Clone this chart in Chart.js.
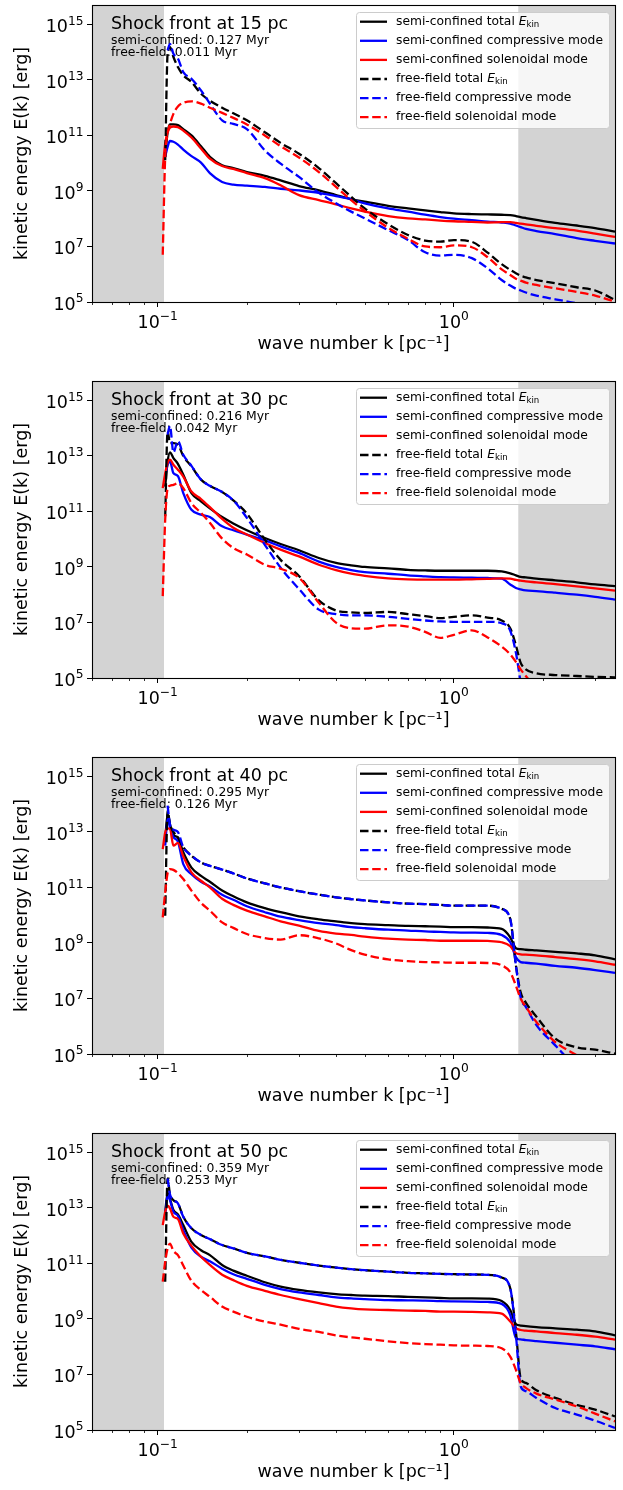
<!DOCTYPE html>
<html>
<head>
<meta charset="utf-8">
<script src="https://cdn.jsdelivr.net/npm/chart.js@4.4.1/dist/chart.umd.min.js"></script>
<style>
  html, body { margin: 0; padding: 0; background: #fff; }
  body { width: 623px; height: 1490px; position: relative; overflow: hidden; }
  canvas { position: absolute; left: 0; }
</style>
</head>
<body>
<canvas id="c15" width="623" height="362" style="top:0px"></canvas>
<canvas id="c30" width="623" height="362" style="top:376px"></canvas>
<canvas id="c40" width="623" height="362" style="top:752px"></canvas>
<canvas id="c50" width="623" height="362" style="top:1128px"></canvas>
<script>
const k = [0.104, 0.106, 0.108, 0.11, 0.113, 0.117, 0.122, 0.13, 0.14, 0.15, 0.165, 0.18, 0.2, 0.23, 0.26, 0.3, 0.35, 0.4, 0.45, 0.5, 0.6, 0.7, 0.8, 0.9, 1.0, 1.15, 1.3, 1.45, 1.55, 1.62, 1.68, 1.75, 1.9, 2.2, 2.6, 3.0, 3.5];

// shock front at 15 pc
const scTotal15 = [null, 1.7e10, 1.3e11, 2.5e11, 2.5e11, 2.35e11, 1.7e11, 1.0e11, 4.1e10, 1.7e10, 8.4e9, 6.7e9, 4.8e9, 3.5e9, 2.4e9, 1.5e9, 1.05e9, 7.1e8, 5.1e8, 4.1e8, 2.9e8, 2.35e8, 2.0e8, 1.74e8, 1.56e8, 1.47e8, 1.43e8, 1.39e8, 1.35e8, 1.25e8, 1.15e8, 1.06e8, 9.1e7, 7.1e7, 5.7e7, 4.6e7, 3.4e7];
const scComp15 = [null, 1.7e10, 3.9e10, 6.3e10, 5.9e10, 4.7e10, 3.1e10, 1.8e10, 1.05e10, 4.4e9, 2.1e9, 1.7e9, 1.56e9, 1.4e9, 1.2e9, 1.05e9, 8.6e8, 6.5e8, 5.0e8, 3.6e8, 2.35e8, 1.8e8, 1.4e8, 1.15e8, 1.0e8, 8.9e7, 7.9e7, 7.3e7, 6.7e7, 5.7e7, 5.0e7, 4.3e7, 3.6e7, 2.8e7, 2.0e7, 1.6e7, 1.28e7];
const scSol15 = [6.3e9, 5.1e10, 1.32e11, 1.9e11, 2.1e11, 2.0e11, 1.5e11, 8.4e10, 3.4e10, 1.47e10, 7.9e9, 6.2e9, 4.4e9, 2.9e9, 1.6e9, 7.1e8, 4.7e8, 3.3e8, 2.35e8, 1.8e8, 1.25e8, 1.03e8, 9.4e7, 8.6e7, 8.1e7, 7.7e7, 7.3e7, 7.5e7, 7.5e7, 7.1e7, 6.7e7, 6.3e7, 5.5e7, 4.6e7, 3.7e7, 2.9e7, 2.2e7];
const ffTotal15 = [null, 1.28e10, 8.7e13, 1.5e14, 6.7e13, 2.9e13, 1.47e13, 8.4e12, 3.2e12, 1.8e12, 1.0e12, 6.3e11, 3.5e11, 1.3e11, 5.4e10, 2.2e10, 6.7e9, 1.9e9, 6.2e8, 2.35e8, 6.3e7, 2.6e7, 1.64e7, 1.5e7, 1.7e7, 1.47e7, 6.0e6, 2.3e6, 1.43e6, 1.09e6, 8.9e5, 7.7e5, 6.2e5, 4.7e5, 3.4e5, 2.6e5, 1.18e5];
const ffComp15 = [null, null, 1.15e14, 2.0e14, 8.7e13, 5.9e13, 1.9e13, 1.1e13, 4.2e12, 1.4e12, 3.5e11, 2.6e11, 1.7e11, 2.9e10, 9.6e9, 3.2e9, 8.6e8, 3.6e8, 1.8e8, 1.03e8, 3.9e7, 1.7e7, 6.2e6, 4.7e6, 5.0e6, 3.8e6, 1.64e6, 6.2e5, 3.9e5, 3.0e5, 2.6e5, 2.2e5, 1.7e5, 1.25e5, 9e4, 6.8e4, 5.1e4];
const ffSol15 = [5.0e6, 1.7e10, 1.15e11, 2.6e11, 6.0e11, 1.1e12, 1.5e12, 1.7e12, 1.4e12, 1.0e12, 6.5e11, 4.3e11, 2.5e11, 1.0e11, 4.1e10, 1.6e10, 4.8e9, 1.4e9, 4.7e8, 1.9e8, 4.7e7, 1.9e7, 1.0e7, 9.4e6, 1.1e7, 9.4e6, 4.1e6, 1.5e6, 9.4e5, 6.9e5, 5.9e5, 5.0e5, 4.1e5, 3.1e5, 2.3e5, 1.7e5, 1.03e5];

// shock front at 30 pc
const scTotal30 = [null, 7.9e11, 6.3e12, 1.35e13, 8.4e12, 5.2e12, 2.1e12, 4.6e11, 2.3e11, 1.3e11, 6.3e10, 3.7e10, 2.1e10, 1.1e10, 6.7e9, 4.0e9, 2.1e9, 1.4e9, 1.15e9, 1.0e9, 8.9e8, 7.9e8, 7.5e8, 7.3e8, 7.3e8, 7.3e8, 7.3e8, 6.9e8, 5.9e8, 5.0e8, 4.4e8, 4.2e8, 3.8e8, 3.3e8, 2.8e8, 2.35e8, 2.05e8];
const scComp30 = [null, 1.8e12, 4.8e12, 6.3e12, 2.4e12, 1.9e12, 4.6e11, 1.15e11, 7.7e10, 6.3e10, 2.9e10, 2.1e10, 1.47e10, 9.1e9, 5.5e9, 3.2e9, 1.56e9, 1.0e9, 7.7e8, 6.5e8, 5.7e8, 5.0e8, 4.6e8, 4.3e8, 4.2e8, 4.1e8, 4.0e8, 3.8e8, 2.35e8, 1.74e8, 1.56e8, 1.43e8, 1.35e8, 1.18e8, 1.0e8, 8.4e7, 6.7e7];
const scSol30 = [6.9e11, 2.4e12, 5.5e12, 7.3e12, 4.8e12, 3.2e12, 1.8e12, 5.2e11, 2.8e11, 1.43e11, 5.4e10, 2.6e10, 1.47e10, 7.3e9, 4.2e9, 2.4e9, 1.2e9, 7.7e8, 5.7e8, 4.8e8, 3.9e8, 3.6e8, 3.5e8, 3.5e8, 3.5e8, 3.6e8, 3.7e8, 3.9e8, 3.8e8, 3.4e8, 3.2e8, 3.0e8, 2.8e8, 2.4e8, 2.0e8, 1.7e8, 1.4e8];
const ffTotal30 = [null, 6.7e10, 7.7e13, 2.9e13, 2.9e13, 2.56e13, 1.0e13, 4.2e12, 1.4e12, 8.4e11, 5.0e11, 2.5e11, 8.4e10, 9.6e9, 1.8e9, 4.7e8, 6.3e7, 2.7e7, 2.3e7, 2.2e7, 2.4e7, 2.0e7, 1.7e7, 1.43e7, 1.6e7, 1.8e7, 1.5e7, 1.18e7, 6.2e6, 1.5e6, 3.6e5, 2.05e5, 1.47e5, 1.28e5, 1.18e5, 1.1e5, 1.06e5];
const ffComp30 = [null, null, 5.9e13, 1.2e14, 1.35e13, 3.4e13, 1.1e13, 4.4e12, 1.4e12, 8.4e11, 5.0e11, 2.5e11, 5.9e10, 6.3e9, 9.4e8, 1.6e8, 2.9e7, 2.0e7, 1.8e7, 1.8e7, 1.6e7, 1.35e7, 1.18e7, 1.09e7, 1.06e7, 1.06e7, 1.06e7, 9.4e6, 5.0e6, 8.1e5, 6.8e4, null, null, null, null, null, null];
const ffSol30 = [8.9e7, 5.1e10, 6.7e11, 8.4e11, 9.1e11, 1.03e12, 6.9e11, 2.0e11, 8.9e10, 3.9e10, 1.05e10, 4.8e9, 2.8e9, 1.2e9, 8.6e8, 4.1e8, 5.1e7, 9.9e6, 6.2e6, 6.0e6, 7.9e6, 7.1e6, 4.6e6, 2.8e6, 3.6e6, 5.2e6, 2.9e6, 1.35e6, 7.1e5, 3.8e5, 2.05e5, 1.18e5, 3.9e4, null, null, null, null];

// shock front at 40 pc
const scTotal40 = [null, 5.5e12, 4.4e13, 1.9e13, 7.7e12, 6.3e12, 1.84e12, 5.2e11, 2.6e11, 1.6e11, 7.7e10, 4.8e10, 2.9e10, 1.8e10, 1.28e10, 9.1e9, 7.1e9, 6.0e9, 5.2e9, 4.8e9, 4.4e9, 4.1e9, 4.0e9, 3.9e9, 3.7e9, 3.7e9, 3.6e9, 3.2e9, 1.6e9, 6.5e8, 6.0e8, 5.7e8, 5.4e8, 4.8e8, 4.2e8, 3.6e8, 2.56e8];
const scComp40 = [null, 3.2e12, 2.9e13, 1.47e13, 6.5e12, 4.5e12, 6.9e11, 3.0e11, 1.6e11, 1.09e11, 5.4e10, 3.6e10, 2.1e10, 1.28e10, 8.8e9, 6.7e9, 5.2e9, 4.4e9, 3.7e9, 3.4e9, 3.0e9, 2.8e9, 2.6e9, 2.5e9, 2.4e9, 2.35e9, 2.3e9, 1.94e9, 1.06e9, 3.1e8, 2.05e8, 1.94e8, 1.8e8, 1.5e8, 1.28e8, 1.06e8, 8.4e7];
const scSol40 = [2.4e12, 9.6e12, 1.35e13, 1.28e13, 3.2e12, 4.0e12, 1.32e12, 3.5e11, 1.74e11, 1.0e11, 3.9e10, 2.35e10, 1.47e10, 9.1e9, 6.0e9, 4.2e9, 2.7e9, 2.17e9, 1.94e9, 1.7e9, 1.43e9, 1.32e9, 1.28e9, 1.2e9, 1.2e9, 1.2e9, 1.18e9, 1.06e9, 7.7e8, 4.3e8, 3.9e8, 3.8e8, 3.6e8, 3.1e8, 2.6e8, 2.17e8, 1.64e8];
const ffTotal40 = [null, 9.6e9, 5.9e13, 1.9e13, 1.0e13, 6.3e12, 2.8e12, 1.4e12, 7.9e11, 6.0e11, 4.4e11, 3.2e11, 2.1e11, 1.4e11, 1.0e11, 7.3e10, 5.5e10, 4.4e10, 3.8e10, 3.4e10, 2.9e10, 2.6e10, 2.5e10, 2.35e10, 2.2e10, 2.2e10, 2.2e10, 1.7e10, 7.3e9, 1.56e8, 1.7e7, 7.1e6, 2.2e6, 3.6e5, 1.74e5, 1.43e5, 1.03e5];
const ffComp40 = [null, null, 8.8e13, 1.9e13, 1.2e13, 1.0e13, 2.8e12, 1.4e12, 7.9e11, 6.0e11, 4.4e11, 3.2e11, 2.1e11, 1.4e11, 1.0e11, 7.3e10, 5.5e10, 4.4e10, 3.8e10, 3.4e10, 2.9e10, 2.6e10, 2.5e10, 2.35e10, 2.2e10, 2.2e10, 2.2e10, 1.7e10, 7.3e9, 1.56e8, 1.1e7, 5.0e6, 1.1e6, 2.05e5, 3.0e4, null, null];
const ffSol40 = [8.4e9, 6.7e10, 3.3e11, 4.6e11, 4.3e11, 3.3e11, 2.0e11, 7.7e10, 2.8e10, 1.47e10, 5.5e9, 3.5e9, 2.1e9, 1.5e9, 1.32e9, 1.9e9, 1.47e9, 9.6e8, 5.5e8, 3.8e8, 2.56e8, 2.2e8, 2.05e8, 2.0e8, 1.94e8, 1.94e8, 1.9e8, 1.56e8, 8.8e7, 2.9e7, 9.9e6, 5.0e6, 1.43e6, 2.7e5, 9.0e4, null, null];

// shock front at 50 pc
const scTotal50 = [null, 7.3e12, 3.4e13, 2.1e13, 8.4e12, 5.8e12, 2.4e12, 6.0e11, 3.0e11, 2.0e11, 8.8e10, 5.5e10, 3.6e10, 2.1e10, 1.47e10, 1.12e10, 9.1e9, 7.9e9, 7.3e9, 6.9e9, 6.7e9, 6.2e9, 6.0e9, 5.7e9, 5.5e9, 5.5e9, 5.4e9, 4.4e9, 2.1e9, 6.5e8, 5.8e8, 5.5e8, 5.1e8, 4.6e8, 4.1e8, 3.6e8, 2.56e8];
const scComp50 = [null, 5.5e12, 2.9e13, 1.9e13, 7.3e12, 5.2e12, 1.6e12, 3.7e11, 1.74e11, 1.2e11, 6.5e10, 4.1e10, 2.8e10, 1.7e10, 1.2e10, 9.1e9, 7.3e9, 6.0e9, 5.5e9, 5.2e9, 4.8e9, 4.7e9, 4.6e9, 4.4e9, 4.3e9, 4.2e9, 4.1e9, 3.5e9, 1.39e9, 2.05e8, 1.84e8, 1.74e8, 1.6e8, 1.39e8, 1.18e8, 1.03e8, 8.1e7];
const scSol50 = [2.4e12, 7.3e12, 1.2e13, 9.6e12, 4.8e12, 4.0e12, 1.2e12, 4.3e11, 1.74e11, 8.8e10, 3.9e10, 2.5e10, 1.56e10, 1.03e10, 7.3e9, 5.2e9, 3.7e9, 2.8e9, 2.4e9, 2.2e9, 2.1e9, 2.0e9, 1.94e9, 1.84e9, 1.84e9, 1.8e9, 1.74e9, 1.56e9, 8.1e8, 4.7e8, 4.0e8, 3.8e8, 3.6e8, 3.1e8, 2.7e8, 2.3e8, 1.8e8];
const ffTotal50 = [null, 2.2e10, 1.15e14, 3.1e13, 1.9e13, 1.47e13, 4.8e12, 1.84e12, 1.06e12, 7.5e11, 4.6e11, 3.5e11, 2.4e11, 1.8e11, 1.35e11, 1.06e11, 8.4e10, 7.1e10, 6.2e10, 5.7e10, 5.1e10, 4.6e10, 4.4e10, 4.2e10, 4.1e10, 4.0e10, 3.9e10, 3.1e10, 1.28e10, 3.6e8, 7.5e6, 5.0e6, 2.7e6, 1.43e6, 8.1e5, 5.4e5, 3.1e5];
const ffComp50 = [null, null, 1.15e14, 3.1e13, 1.9e13, 1.47e13, 4.8e12, 1.84e12, 1.06e12, 7.5e11, 4.6e11, 3.5e11, 2.4e11, 1.8e11, 1.35e11, 1.06e11, 8.4e10, 7.1e10, 6.2e10, 5.7e10, 5.1e10, 4.6e10, 4.4e10, 4.2e10, 4.1e10, 4.0e10, 3.9e10, 3.1e10, 1.28e10, 2.7e8, 3.8e6, 2.5e6, 1.43e6, 6.2e5, 3.6e5, 2.17e5, 1.18e5];
const ffSol50 = [2.2e10, 1.15e11, 3.5e11, 5.2e11, 2.8e11, 2.0e11, 8.4e10, 2.35e10, 1.1e10, 6.3e9, 2.8e9, 1.84e9, 1.2e9, 8.1e8, 6.2e8, 4.4e8, 3.4e8, 2.56e8, 2.17e8, 1.94e8, 1.56e8, 1.35e8, 1.25e8, 1.18e8, 1.12e8, 1.09e8, 1.06e8, 8.8e7, 4.4e7, 1.47e7, 5.0e6, 3.3e6, 2.05e6, 1.25e6, 7.1e5, 3.9e5, 2.05e5];

const panelTitles = ['Shock front at 15 pc', 'Shock front at 30 pc', 'Shock front at 40 pc', 'Shock front at 50 pc'];
const semiTimes = ['0.127', '0.216', '0.295', '0.359'];
const freeTimes = ['0.011', '0.042', '0.126', '0.253'];

const seriesLabels = ['semi-confined total E_kin', 'semi-confined compressive mode', 'semi-confined solenoidal mode',
                      'free-field total E_kin', 'free-field compressive mode', 'free-field solenoidal mode'];

// tick labels are written as 10^exp
const xTickValues = [0.1, 1];
const xTickExps = ['\u22121', '0'];
const xMinorTicks = [0.06, 0.07, 0.08, 0.09, 0.2, 0.3, 0.4, 0.5, 0.6, 0.7, 0.8, 0.9, 2, 3];
const yTickValues = [1e5, 1e7, 1e9, 1e11, 1e13, 1e15];
const yTickExps = ['5', '7', '9', '11', '13', '15'];
const shadeBands = [[0.06, 0.105], [1.65, 3.5]];

const FONT = "'DejaVu Sans', sans-serif";
const FS = 17.5;
const LW = 2.3;
const DASH = [8.5, 3.7];
const styles = [
  { color: '#000000', dash: [] },
  { color: '#0000ff', dash: [] },
  { color: '#ff0000', dash: [] },
  { color: '#000000', dash: DASH },
  { color: '#0000ff', dash: DASH },
  { color: '#ff0000', dash: DASH },
];

// "10" with a raised exponent, like matplotlib mathtext
function drawPow(ctx, exp, x, baseline, align) {
  ctx.font = FS + 'px ' + FONT;
  const wb = ctx.measureText('10').width;
  ctx.font = (FS * 0.7) + 'px ' + FONT;
  const we = ctx.measureText(exp).width;
  const x0 = align === 'right' ? x - wb - we : x - (wb + we) / 2;
  ctx.font = FS + 'px ' + FONT;
  ctx.fillText('10', x0, baseline);
  ctx.font = (FS * 0.7) + 'px ' + FONT;
  ctx.fillText(exp, x0 + wb, baseline - 7.6);
}

const panelDecor = {
  id: 'panelDecor',
  beforeDatasetsDraw(chart, args, opts) {
    const { ctx, chartArea: a, scales: { x } } = chart;
    ctx.save();
    ctx.fillStyle = '#d3d3d3';
    for (const [lo, hi] of shadeBands) {
      const x0 = x.getPixelForValue(lo), x1 = x.getPixelForValue(hi);
      ctx.fillRect(x0, a.top, x1 - x0, a.bottom - a.top);
    }
    ctx.fillStyle = '#000';
    ctx.textBaseline = 'alphabetic';
    ctx.textAlign = 'left';
    ctx.font = FS + 'px ' + FONT;
    ctx.fillText(opts.title, a.left + 19, a.top + 24);
    ctx.font = '12.4px ' + FONT;
    ctx.fillText('semi-confined: ' + opts.semi + ' Myr', a.left + 19, a.top + 38.5);
    ctx.fillText('free-field: ' + opts.free + ' Myr', a.left + 19, a.top + 51);
    ctx.restore();
  },
  afterDatasetsDraw(chart) {
    const { ctx, chartArea: a, scales: { x, y } } = chart;
    ctx.save();
    // minor ticks on the k axis
    ctx.strokeStyle = '#000';
    ctx.lineWidth = 0.8;
    for (const v of xMinorTicks) {
      const px = Math.round(x.getPixelForValue(v)) + 0.5;
      ctx.beginPath();
      ctx.moveTo(px, a.bottom);
      ctx.lineTo(px, a.bottom + 3);
      ctx.stroke();
    }
    // frame
    ctx.lineWidth = 1.1;
    ctx.strokeRect(Math.round(a.left) + 0.5, Math.round(a.top) + 0.5,
                   Math.round(a.right - a.left), Math.round(a.bottom - a.top));

    // tick labels
    ctx.fillStyle = '#000';
    ctx.textBaseline = 'alphabetic';
    ctx.textAlign = 'left';
    yTickValues.forEach((v, i) => {
      drawPow(ctx, yTickExps[i], a.left - 8.5, y.getPixelForValue(v) + 8, 'right');
    });
    xTickValues.forEach((v, i) => {
      drawPow(ctx, xTickExps[i], x.getPixelForValue(v), a.bottom + 26, 'center');
    });

    // legend
    const bx = a.right - 259, by = a.top + 7, bw = 253, bh = 116;
    ctx.beginPath();
    ctx.roundRect(bx + 0.5, by + 0.5, bw, bh, 3);
    ctx.fillStyle = 'rgba(255,255,255,0.8)';
    ctx.fill();
    ctx.strokeStyle = '#cccccc';
    ctx.lineWidth = 1;
    ctx.stroke();
    const size = 12.3;
    chart.data.datasets.forEach((ds, i) => {
      const ly = a.top + 16.7 + i * 19.1;
      ctx.beginPath();
      ctx.setLineDash(ds.borderDash || []);
      ctx.strokeStyle = ds.borderColor;
      ctx.lineWidth = ds.borderWidth;
      ctx.moveTo(bx + 4, ly);
      ctx.lineTo(bx + 31, ly);
      ctx.stroke();
      ctx.setLineDash([]);
      ctx.fillStyle = '#000';
      ctx.textBaseline = 'middle';
      let tx = bx + 40;
      let text = ds.label;
      const sub = text.endsWith(' E_kin');
      if (sub) text = text.slice(0, -5);
      ctx.font = size + 'px ' + FONT;
      ctx.fillText(text, tx, ly);
      if (sub) {
        tx += ctx.measureText(text).width;
        ctx.font = 'italic ' + size + 'px ' + FONT;
        ctx.fillText('E', tx, ly);
        tx += ctx.measureText('E').width;
        ctx.font = (size * 0.7) + 'px ' + FONT;
        ctx.fillText('kin', tx, ly + 3);
      }
    });
    ctx.restore();
  }
};

function buildPanel(id, idx, series) {
  const datasets = series.map((arr, i) => ({
    label: seriesLabels[i],
    data: k.map((kv, j) => ({ x: kv, y: arr[j] })),
    borderColor: styles[i].color,
    borderDash: styles[i].dash,
    borderWidth: LW,
    pointRadius: 0,
    fill: false,
    cubicInterpolationMode: 'monotone',
    order: series.length - i
  }));

  new Chart(document.getElementById(id), {
    type: 'line',
    data: { datasets },
    options: {
      responsive: false,
      animation: false,
      devicePixelRatio: 1,
      layout: { padding: { top: 5, right: 8, left: 0, bottom: 0 } },
      plugins: {
        legend: { display: false },
        tooltip: { enabled: false },
        panelDecor: { title: panelTitles[idx], semi: semiTimes[idx], free: freeTimes[idx] }
      },
      scales: {
        x: {
          type: 'logarithmic',
          min: 0.06,
          max: 3.5,
          afterBuildTicks: (s) => { s.ticks = xTickValues.map(v => ({ value: v })); },
          afterFit: (s) => { s.height = 60; },
          ticks: { display: false },
          grid: { display: true, drawOnChartArea: false, tickLength: 5, tickColor: '#000', tickWidth: 1 },
          border: { display: false },
          title: {
            display: true, text: 'wave number k [pc\u207B\u00B9]', color: '#000',
            font: { family: FONT, size: FS }, padding: { top: 0, bottom: 7.5 }
          }
        },
        y: {
          type: 'logarithmic',
          min: 1e5,
          max: 5e15,
          afterBuildTicks: (s) => { s.ticks = yTickValues.map(v => ({ value: v })); },
          afterFit: (s) => { s.width = 92; },
          ticks: { display: false },
          grid: { display: true, drawOnChartArea: false, tickLength: 5, tickColor: '#000', tickWidth: 1 },
          border: { display: false },
          title: {
            display: true, text: 'kinetic energy E(k) [erg]', color: '#000',
            font: { family: FONT, size: FS }, padding: { top: 12, bottom: 0 }
          }
        }
      }
    },
    plugins: [panelDecor]
  });
}

buildPanel('c15', 0, [scTotal15, scComp15, scSol15, ffTotal15, ffComp15, ffSol15]);
buildPanel('c30', 1, [scTotal30, scComp30, scSol30, ffTotal30, ffComp30, ffSol30]);
buildPanel('c40', 2, [scTotal40, scComp40, scSol40, ffTotal40, ffComp40, ffSol40]);
buildPanel('c50', 3, [scTotal50, scComp50, scSol50, ffTotal50, ffComp50, ffSol50]);
</script>
</body>
</html>
